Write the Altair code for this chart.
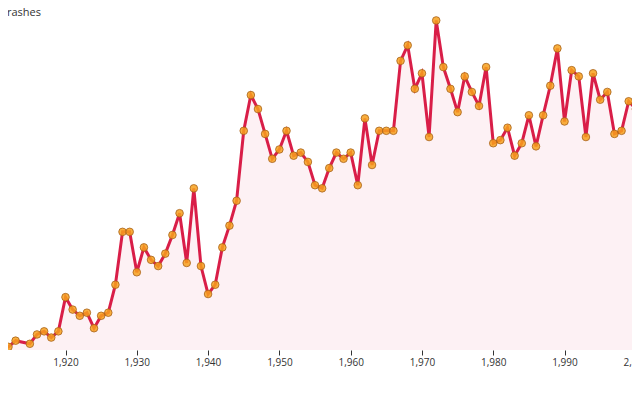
import altair as alt
import pandas as pd

years = [1910, 1912, 1913, 1915, 1916, 1917, 1918, 1919,
         1920, 1921, 1922, 1923, 1924, 1925, 1926, 1927, 1928, 1929,
         1930, 1931, 1932, 1933, 1934, 1935, 1936, 1937, 1938, 1939,
         1940, 1941, 1942, 1943, 1944, 1945, 1946, 1947, 1948, 1949,
         1950, 1951, 1952, 1953, 1954, 1955, 1956, 1957, 1958, 1959,
         1960, 1961, 1962, 1963, 1964, 1965, 1966, 1967, 1968, 1969,
         1970, 1971, 1972, 1973, 1974, 1975, 1976, 1977, 1978, 1979,
         1980, 1981, 1982, 1983, 1984, 1985, 1986, 1987, 1988, 1989,
         1990, 1991, 1992, 1993, 1994, 1995, 1996, 1997, 1998, 1999,
         2000, 2001]
crashes = [1, 1, 3, 2, 5, 6, 4, 6,
           17, 13, 11, 12, 7, 11, 12, 21, 38, 38,
           25, 33, 29, 27, 31, 37, 44, 28, 52, 27,
           18, 21, 33, 40, 48, 70.5, 82, 77.5, 69.5, 61.5,
           64.5, 70.5, 62.5, 63.5, 60.5, 53, 52, 58.5, 63.5, 61.5,
           63.5, 53, 74.5, 59.5, 70.5, 70.5, 70.5, 93, 98, 84,
           89, 68.5, 106, 91, 84, 76.5, 88, 83, 78.5, 91,
           66.5, 67.5, 71.5, 62.5, 66.5, 75.5, 65.5, 75.5, 85, 97,
           73.5, 90, 88, 68.5, 89, 80.5, 83, 69.5, 70.5, 80,
           77.5, 71.5]
tick_years = [1920, 1930, 1940, 1950, 1960, 1970, 1980, 1990, 2000]

df = pd.DataFrame({"year": years, "crashes": crashes})

FONT = "Open Sans"

x = alt.X("year:Q",
          scale=alt.Scale(domain=[1911.934, 2000.586], range=[0, 632],
                          nice=False, zero=False),
          axis=alt.Axis(values=tick_years, title=None, domain=False, grid=False,
                        tickSize=5, tickColor="#333", labelColor="#333",
                        labelFontSize=10, labelFont=FONT, labelFlush=False,
                        labelOverlap=False, format=",d", labelPadding=2))
y = alt.Y("crashes:Q", scale=alt.Scale(domain=[0, 110], nice=False), axis=None)

base = alt.Chart(df).encode(x=x, y=y)

area = base.mark_area(color="crimson", opacity=0.06, clip=True)
line = base.mark_line(color="#d91e48", strokeWidth=3, clip=True)
pts = base.mark_point(filled=True, size=58, fill="#f7a11c", fillOpacity=0.85,
                      stroke="#a8621a", strokeWidth=1, strokeOpacity=0.8,
                      clip=True, shape="circle")

chart = (area + line + pts).properties(
    width=624, height=342,
    title=alt.TitleParams(text="Crashes", anchor="start", fontSize=11,
                          fontWeight="normal", color="#333", font=FONT,
                          dx=-8, dy=14),
    autosize=alt.AutoSizeParams(type="none"),
    padding={"left": 0, "top": 0, "right": 0, "bottom": 30},
).configure_view(stroke=None)

chart.save("out.html", embed_options={"renderer": "svg", "actions": False})
